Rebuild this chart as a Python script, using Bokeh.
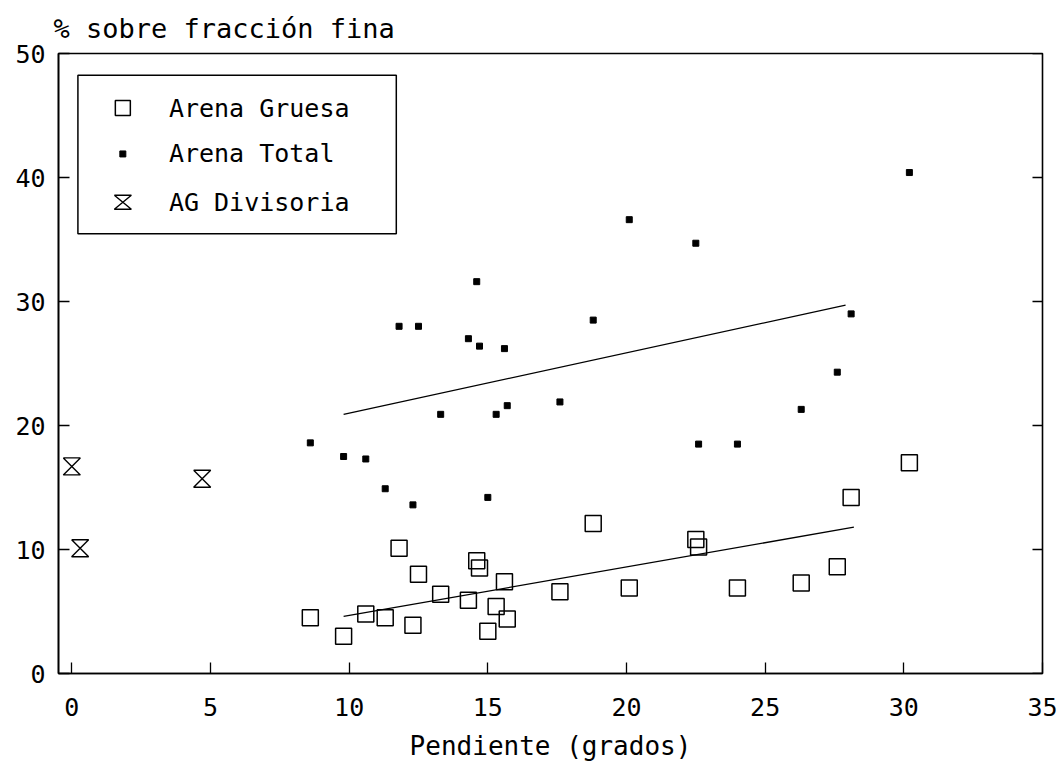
from bokeh.plotting import figure
from bokeh.models import Range1d, FixedTicker, BoxAnnotation, Label
from bokeh.embed import file_html
from bokeh.resources import INLINE

# ---------------- data ----------------
pendiente = [8.6, 9.8, 10.6, 11.3, 11.8, 12.3, 12.5, 13.3, 14.3, 14.6, 14.7, 15.0, 15.3,
             15.6, 15.7, 17.6, 18.8, 20.1, 22.5, 22.6, 24.0, 26.3, 27.6, 28.1, 30.2]
arena_gruesa = [4.5, 3.0, 4.8, 4.5, 10.1, 3.9, 8.0, 6.4, 5.9, 9.1, 8.5, 3.4, 5.4,
                7.4, 4.4, 6.6, 12.1, 6.9, 10.8, 10.2, 6.9, 7.3, 8.6, 14.2, 17.0]
arena_total = [18.6, 17.5, 17.3, 14.9, 28.0, 13.6, 28.0, 20.9, 27.0, 31.6, 26.4, 14.2, 20.9,
               26.2, 21.6, 21.9, 28.5, 36.6, 34.7, 18.5, 18.5, 21.3, 24.3, 29.0, 40.4]
div_pendiente = [0.0, 4.7, 0.3]
div_gruesa = [16.7, 15.7, 10.1]

trend_gruesa_x = [9.8, 28.2]
trend_gruesa_y = [4.6, 11.8]
trend_total_x = [9.8, 27.9]
trend_total_y = [20.9, 29.7]

x_ticks = [0, 5, 10, 15, 20, 25, 30, 35]
y_ticks = [0, 10, 20, 30, 40, 50]
legend_labels = ["Arena Gruesa", "Arena Total", "AG Divisoria"]
x_title = "Pendiente (grados)"
y_title = "% sobre fracción fina"

# ---------------- layout ----------------
W, H = 1059, 763
BL, BR, BT, BB = 58, 17, 53, 90
X0, X1, Y0, Y1 = -0.48, 35, 0, 50
FONT = "DejaVu Sans Mono"
FS = "25px"

p = figure(width=W, height=H, output_backend="svg", toolbar_location=None,
           x_range=Range1d(X0, X1), y_range=Range1d(Y0, Y1),
           min_border_left=BL, min_border_right=BR, min_border_top=BT, min_border_bottom=BB,
           background_fill_color="white", border_fill_color="white")
p.grid.visible = False
p.outline_line_color = "black"
p.outline_line_width = 1.6
p.outline_line_alpha = 1

# title (y axis label)
p.title.text = y_title
p.title.align = "left"
p.title.text_font = FONT
p.title.text_font_size = "27px"
p.title.text_font_style = "normal"
p.title.text_color = "black"
p.title.offset = -5
p.title.standoff = 20

for ax in (p.xaxis[0], p.yaxis[0]):
    ax.major_tick_in = 11
    ax.major_tick_out = 0
    ax.minor_tick_in = 0
    ax.minor_tick_out = 0
    ax.axis_line_color = "black"
    ax.axis_line_width = 1.6
    ax.major_tick_line_color = "black"
    ax.major_tick_line_width = 1.3
    ax.major_label_text_font = FONT
    ax.major_label_text_font_size = FS
    ax.major_label_text_color = "black"

p.xaxis[0].ticker = FixedTicker(ticks=x_ticks)
p.yaxis[0].ticker = FixedTicker(ticks=y_ticks)
p.xaxis[0].major_label_standoff = 24
p.yaxis[0].major_label_standoff = 13
p.xaxis[0].axis_label = x_title
p.xaxis[0].axis_label_text_font = FONT
p.xaxis[0].axis_label_text_font_size = "26px"
p.xaxis[0].axis_label_text_font_style = "normal"
p.xaxis[0].axis_label_text_color = "black"
p.xaxis[0].axis_label_text_line_height = 0.8
p.xaxis[0].axis_label_standoff = 12

# pixel -> data helpers for drawn shapes
fw = W - BL - BR
fh = H - BT - BB
px_x = (X1 - X0) / fw
px_y = (Y1 - Y0) / fh

# inward ticks on the right frame edge
p.segment(x0=[X1 - 10 * px_x] * len(y_ticks), y0=y_ticks, x1=[X1] * len(y_ticks), y1=y_ticks,
          line_color="black", line_width=1.3)

# ---------------- marks ----------------
p.line(trend_total_x, trend_total_y, line_color="black", line_width=1.3)
p.line(trend_gruesa_x, trend_gruesa_y, line_color="black", line_width=1.3)

p.scatter(pendiente, arena_gruesa, marker="square", size=16, fill_color=None,
          line_color="black", line_width=1.5)
p.scatter(pendiente, arena_total, marker="square", size=6, fill_color="black",
          line_color="black", line_width=1)


def hourglass(xs, ys, half_w, half_h):
    mx, my = [], []
    for x, y in zip(xs, ys):
        mx.append([x - half_w, x + half_w, x - half_w, x + half_w, x - half_w])
        my.append([y + half_h, y + half_h, y - half_h, y - half_h, y + half_h])
    return mx, my


hx, hy = hourglass(div_pendiente, div_gruesa, 8.5 * px_x, 8.5 * px_y)
p.multi_line(hx, hy, line_color="black", line_width=1.4)

# ---------------- legend (drawn manually) ----------------
leg_left, leg_right, leg_top, leg_bottom = 0.22, 11.7, 48.25, 35.46
key_x, text_x = 1.84, 3.5
row_y = [45.6, 41.9, 38.0]

p.add_layout(BoxAnnotation(left=leg_left, right=leg_right, top=leg_top, bottom=leg_bottom,
                           fill_color=None, fill_alpha=0, line_color="black", line_alpha=1,
                           line_width=1.5))
p.scatter([key_x], [row_y[0]], marker="square", size=15, fill_color=None,
          line_color="black", line_width=1.5)
p.scatter([key_x], [row_y[1]], marker="square", size=6, fill_color="black",
          line_color="black")
lx, ly = hourglass([key_x], [row_y[2]], 8.5 * px_x, 7 * px_y)
p.multi_line(lx, ly, line_color="black", line_width=1.4)
for lab, yy in zip(legend_labels, row_y):
    p.add_layout(Label(x=text_x, y=yy, text=lab, text_font=FONT, text_font_size=FS,
                       text_baseline="middle", text_align="left", text_color="black"))

open("out.html", "w").write(file_html(p, INLINE))
